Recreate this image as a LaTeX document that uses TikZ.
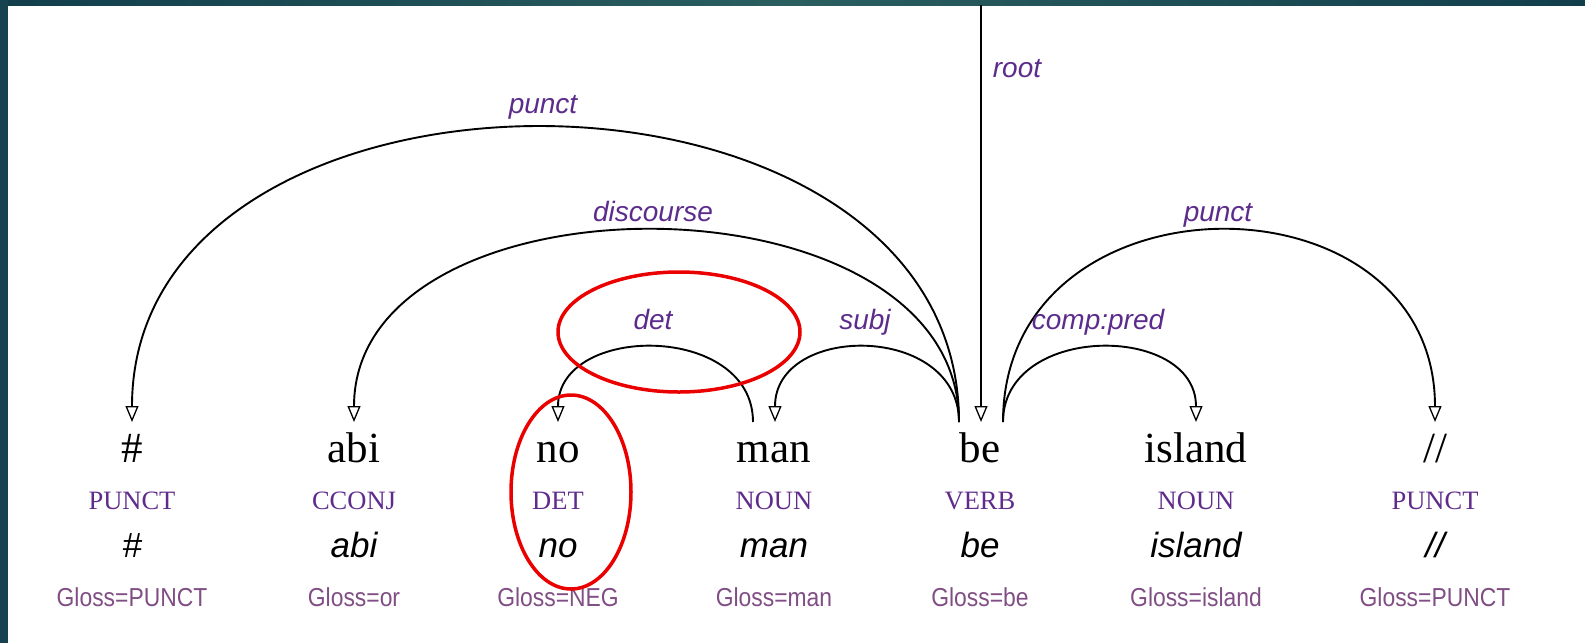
\documentclass[tikz,border=0pt]{standalone}
\usepackage{fontspec}
\setmainfont{Liberation Serif}
\newfontfamily\sansf{Liberation Sans}
\newfontfamily\glossf[FakeStretch=0.88]{Liberation Sans}
\usetikzlibrary{arrows.meta}
\definecolor{labelcol}{RGB}{92,44,140}
\definecolor{poscol}{RGB}{96,44,140}
\definecolor{glosscol}{RGB}{128,78,132}
\definecolor{tealdark}{RGB}{18,62,76}
\definecolor{tealmid}{RGB}{42,94,95}
\definecolor{ringred}{RGB}{235,0,0}
\begin{document}
\begin{tikzpicture}[x=1pt,y=-1pt,
  wordtxt/.style={anchor=base,inner sep=0pt,font=\fontsize{43}{50}\selectfont},
  postxt/.style={anchor=base,inner sep=0pt,text=poscol,font=\fontsize{26.5}{30}\selectfont},
  lemtxt/.style={anchor=base,inner sep=0pt,font=\sansf\itshape\fontsize{35}{40}\selectfont},
  glosstxt/.style={anchor=base,inner sep=0pt,text=glosscol,font=\glossf\fontsize{26}{30}\selectfont},
  deplabel/.style={anchor=base,inner sep=0pt,text=labelcol,font=\sansf\itshape\fontsize{28}{32}\selectfont},
  deparc/.style={line width=1.9pt,-{Triangle[open,length=16pt,width=13pt,line width=1.3pt]}},
  ring/.style={draw=ringred,line width=3.5pt}]
\useasboundingbox (0,0) rectangle (1585,643);
% frame strips
\shade[left color=tealdark,right color=tealdark,middle color=tealmid] (0,0) rectangle (1585,5);
\fill[tealdark!85!tealmid] (0,0) rectangle (8,643);
% words
\foreach \n/\x/\w/\p/\l/\g in {1/132/\#/PUNCT/\#/PUNCT, 2/354/abi/CCONJ/abi/or, 3/558/no/DET/no/NEG, 4/774/man/NOUN/man/man, 5/980/be/VERB/be/be, 6/1196/island/NOUN/island/island, 7/1435/\slash\slash/PUNCT/\slash\slash/PUNCT}{
  \node[wordtxt] (w\n) at (\x,462) {\w};
  \node[postxt] (p\n) at (\x,509) {\p};
  \node[lemtxt] (l\n) at (\x,557) {\l};
  \node[glosstxt] (g\n) at (\x,606) {Gloss=\g};
}
% arc end points
\coordinate (topin) at (981,5);
\coordinate (in1) at (132,422);
\coordinate (in2) at (354,422);
\coordinate (in3) at (558,422);
\coordinate (in4) at (775,422);
\coordinate (in5) at (981,422);
\coordinate (in6) at (1196,422);
\coordinate (in7) at (1435,422);
\coordinate (out4) at (753,422);
\coordinate (out5l) at (959,422);
\coordinate (out5r) at (1003,422);
% arcs
\draw[deparc] (topin) -- (in5);
\draw[deparc] (out5l) .. controls (959,30) and (132,30) .. (in1);
\draw[deparc] (out5l) .. controls (959,167) and (354,167) .. (in2);
\draw[deparc] (out4) .. controls (753,323) and (558,323) .. (in3);
\draw[deparc] (out5l) .. controls (959,323) and (775,323) .. (in4);
\draw[deparc] (out5r) .. controls (1003,323) and (1196,323) .. (in6);
\draw[deparc] (out5r) .. controls (1003,167) and (1435,167) .. (in7);
% labels
\node[deplabel] (lroot) at (1017,77) {root};
\node[deplabel] (lp1) at (543,113) {punct};
\node[deplabel] (ldisc) at (653,221) {discourse};
\node[deplabel] (ldet) at (653,329) {det};
\node[deplabel] (lsubj) at (865,329) {subj};
\node[deplabel] (lcomp) at (1098,329) {comp:pred};
\node[deplabel] (lp2) at (1218,221) {punct};
% red rings
\draw[ring] (679,332) ellipse [x radius=121, y radius=60];
\draw[ring] (571,492) ellipse [x radius=60, y radius=97];
\end{tikzpicture}
\end{document}
